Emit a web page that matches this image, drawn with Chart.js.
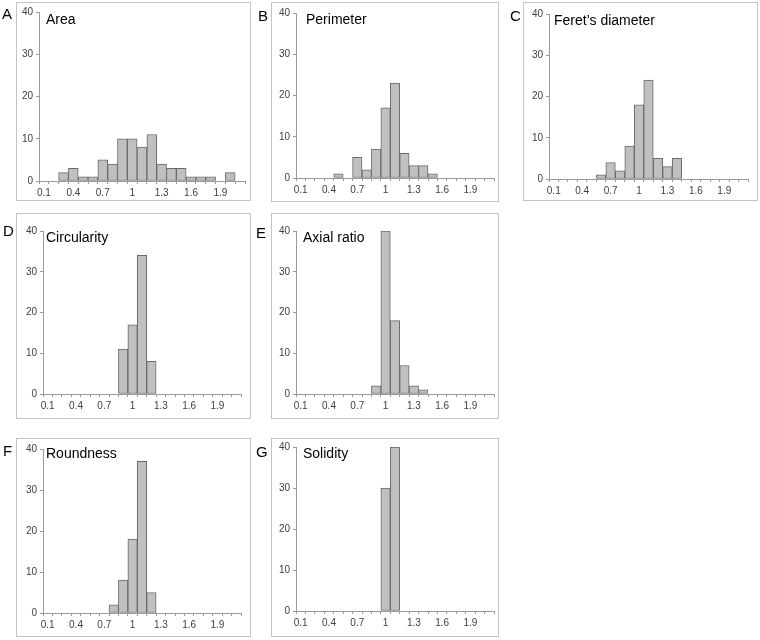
<!DOCTYPE html>
<html>
<head>
<meta charset="utf-8">
<script src="https://cdn.jsdelivr.net/npm/chart.js@4/dist/chart.umd.min.js"></script>
<style>
  body { margin: 0; background: #fff; width: 760px; height: 640px; position: relative; overflow: hidden; font-family: 'Liberation Sans', Arial, sans-serif; }
  .box { position: absolute; border: 1px solid #c4c4c4; box-sizing: border-box; }
  canvas { position: absolute; }
  .letter { position: absolute; font-size: 15px; line-height: 15px; color: #000; }
  .name { position: absolute; font-size: 14px; line-height: 14px; color: #000; white-space: nowrap; }
</style>
</head>
<body>
<script>
// bins (relative value) shared by all histograms
const bins = ['0.1', '0.2', '0.3', '0.4', '0.5', '0.6', '0.7', '0.8', '0.9', '1',
              '1.1', '1.2', '1.3', '1.4', '1.5', '1.6', '1.7', '1.8', '1.9', '2', '2.1'];
const yMax = 40;
const yStep = 10;

// counts per bin
const areaCounts        = [0, 0, 2, 3, 1, 1, 5, 4, 10, 10, 8, 11, 4, 3, 3, 1, 1, 1, 0, 2, 0];
const perimeterCounts   = [0, 0, 0, 0, 1, 0, 5, 2, 7, 17, 23, 6, 3, 3, 1, 0, 0, 0, 0, 0, 0];
const feretCounts       = [0, 0, 0, 0, 0, 1, 4, 2, 8, 18, 24, 5, 3, 5, 0, 0, 0, 0, 0, 0, 0];
const circularityCounts = [0, 0, 0, 0, 0, 0, 0, 0, 11, 17, 34, 8, 0, 0, 0, 0, 0, 0, 0, 0, 0];
const axialCounts       = [0, 0, 0, 0, 0, 0, 0, 0, 2, 40, 18, 7, 2, 1, 0, 0, 0, 0, 0, 0, 0];
const roundnessCounts   = [0, 0, 0, 0, 0, 0, 0, 2, 8, 18, 37, 5, 0, 0, 0, 0, 0, 0, 0, 0, 0];
const solidityCounts    = [0, 0, 0, 0, 0, 0, 0, 0, 0, 30, 40, 0, 0, 0, 0, 0, 0, 0, 0, 0, 0];

const panelLetters = ['A', 'B', 'C', 'D', 'E', 'F', 'G'];
const panelNames = ['Area', 'Perimeter', 'Feret\u2019s diameter', 'Circularity', 'Axial ratio', 'Roundness', 'Solidity'];
const panelCounts = [areaCounts, perimeterCounts, feretCounts, circularityCounts, axialCounts, roundnessCounts, solidityCounts];

// layout: box rect, plot rect (left, top, right, bottom), letter pos, name pos
const layout = [
  { box: [16, 2, 251, 201],  plot: [39, 11, 245, 181],  letter: [2, 6],     name: [46, 12] },
  { box: [271, 2, 499, 202], plot: [296, 12, 494, 178], letter: [258, 8],   name: [306, 12] },
  { box: [523, 2, 758, 201], plot: [549, 13, 748, 179], letter: [510, 8],   name: [554, 13] },
  { box: [16, 213, 251, 419], plot: [43, 230, 241, 394], letter: [3, 223],  name: [46, 230] },
  { box: [271, 213, 499, 419], plot: [296, 230, 494, 394], letter: [256, 225], name: [303, 230] },
  { box: [16, 438, 251, 637], plot: [43, 448, 241, 613], letter: [3, 443],  name: [46, 446] },
  { box: [271, 438, 499, 637], plot: [296, 446, 494, 611], letter: [256, 444], name: [303, 446] }
];

Chart.defaults.font.family = "'Liberation Sans', Arial, sans-serif";
Chart.defaults.font.size = 10;
Chart.defaults.color = '#404040';

const axisColor = '#9a9a9a';
const yW = 30, xH = 20, padTop = 8, padRight = 4;

panelCounts.forEach((counts, i) => {
  const L = layout[i];
  const box = document.createElement('div');
  box.className = 'box';
  box.style.left = L.box[0] + 'px';
  box.style.top = L.box[1] + 'px';
  box.style.width = (L.box[2] - L.box[0]) + 'px';
  box.style.height = (L.box[3] - L.box[1]) + 'px';
  document.body.appendChild(box);

  const [pl, pt, pr, pb] = L.plot;
  const cv = document.createElement('canvas');
  const w = pr - pl + yW + padRight;
  const h = pb - pt + padTop + xH;
  cv.width = w; cv.height = h;
  cv.style.width = w + 'px'; cv.style.height = h + 'px';
  cv.style.left = (pl - yW) + 'px';
  cv.style.top = (pt - padTop) + 'px';
  document.body.appendChild(cv);

  const name = document.createElement('div');
  name.className = 'name';
  name.textContent = panelNames[i];
  name.style.left = L.name[0] + 'px';
  name.style.top = L.name[1] + 'px';
  document.body.appendChild(name);

  const letter = document.createElement('div');
  letter.className = 'letter';
  letter.textContent = panelLetters[i];
  letter.style.left = L.letter[0] + 'px';
  letter.style.top = L.letter[1] + 'px';
  document.body.appendChild(letter);

  new Chart(cv.getContext('2d'), {
    type: 'bar',
    data: {
      labels: bins,
      datasets: [{
        data: counts,
        backgroundColor: '#c0c0c0',
        borderColor: '#6a6a6a',
        borderWidth: 1,
        borderSkipped: false,
        barPercentage: 1,
        categoryPercentage: 1
      }]
    },
    options: {
      responsive: false,
      animation: false,
      devicePixelRatio: 1,
      layout: { padding: { top: padTop, right: padRight, left: 0, bottom: 0 } },
      plugins: { legend: { display: false }, tooltip: { enabled: false } },
      scales: {
        x: {
          grid: { display: true, drawOnChartArea: false, drawTicks: true, tickLength: 3, color: axisColor, offset: true },
          border: { display: true, color: axisColor },
          ticks: {
            autoSkip: false, maxRotation: 0, padding: 3,
            callback: function (value, index) {
              return index % 3 === 0 ? bins[index] : '';
            }
          },
          afterFit: function (scale) { scale.height = xH; }
        },
        y: {
          min: 0, max: yMax,
          grid: { display: true, drawOnChartArea: false, drawTicks: true, tickLength: 3, color: axisColor },
          border: { display: true, color: axisColor },
          ticks: { stepSize: yStep, padding: 3 },
          afterFit: function (scale) { scale.width = yW; }
        }
      }
    }
  });
});
</script>
</body>
</html>
